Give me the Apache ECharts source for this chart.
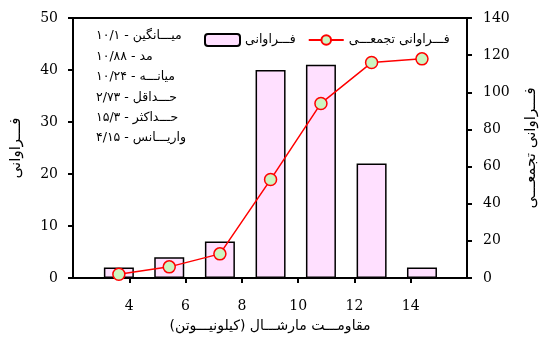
<!DOCTYPE html>
<html>
<head>
<meta charset="utf-8">
<script src="https://cdn.jsdelivr.net/npm/echarts@6/dist/echarts.min.js"></script>
<style>html,body{margin:0;padding:0;background:#fff;}#c{width:547px;height:337px;}</style>
</head>
<body>
<div id="c"></div>
<script>
// Data
const binCenters = [3.63, 5.42, 7.22, 9.02, 10.81, 12.61, 14.40];
const frequency = [2, 4, 7, 40, 41, 22, 2];
const cumulative = [2, 6, 13, 53, 94, 116, 118];
const xTicks = [4, 6, 8, 10, 12, 14];
const statLines = [
  'میـــانگین - ۱۰/۱',
  'مد - ۱۰/۸۸',
  'میانـــه - ۱۰/۲۴',
  'حـــداقل - ۲/۷۳',
  'حـــداکثر - ۱۵/۳',
  'واریـــانس - ۴/۱۵'
];
const nameFreq = 'فـــراوانی';
const nameCum = 'فـــراوانی تجمعـــی';
const nameX = 'مقاومـــت مارشـــال (کیلونیـــوتن)';

const RLM = '\u200F';
const rtl = s => RLM + s + RLM;
const serif = '"DejaVu Serif", "Liberation Serif", serif';
const fa = '"DejaVu Sans", sans-serif';

const chart = echarts.init(document.getElementById('c'), null, {renderer: 'canvas'});
chart.setOption({
  animation: false,
  backgroundColor: '#fff',
  grid: {left: 73, right: 80, top: 18, bottom: 59, outerBoundsMode: 'none', containLabel: false,
         show: true, borderColor: '#000', borderWidth: 2, backgroundColor: 'transparent'},
  legend: {
    left: 199, top: 28, itemWidth: 35, itemHeight: 12, itemGap: 12,
    textStyle: {fontFamily: fa, fontSize: 12.5, color: '#000'},
    data: [rtl(nameFreq), rtl(nameCum)]
  },
  xAxis: {
    type: 'value', min: 2, max: 16, interval: 2,
    name: rtl(nameX), nameLocation: 'middle', nameGap: 41, nameMoveOverlap: false,
    nameTextStyle: {fontFamily: fa, fontSize: 14, color: '#000'},
    axisLine: {lineStyle: {color: '#000', width: 2}},
    axisTick: {show: true, length: 5, lineStyle: {color: '#000', width: 2}, customValues: xTicks},
    axisLabel: {fontFamily: serif, fontSize: 14, color: '#000', margin: 21, customValues: xTicks},
    splitLine: {show: false}
  },
  yAxis: [{
    type: 'value', min: 0, max: 50, interval: 10, position: 'left',
    name: rtl(nameFreq), nameLocation: 'middle', nameGap: 49, nameRotate: 90, nameMoveOverlap: false,
    nameTextStyle: {fontFamily: fa, fontSize: 15, color: '#000'},
    axisLine: {show: true, lineStyle: {color: '#000', width: 2}},
    axisTick: {show: true, length: 5, lineStyle: {color: '#000', width: 2}},
    axisLabel: {fontFamily: serif, fontSize: 14, color: '#000', margin: 15},
    splitLine: {show: false}
  }, {
    type: 'value', min: 0, max: 140, interval: 20, position: 'right',
    name: rtl(nameCum), nameLocation: 'middle', nameGap: 57, nameRotate: 90, nameMoveOverlap: false,
    nameTextStyle: {fontFamily: fa, fontSize: 15, color: '#000'},
    axisLine: {show: true, lineStyle: {color: '#000', width: 2}},
    axisTick: {show: true, length: 5, lineStyle: {color: '#000', width: 2}},
    axisLabel: {fontFamily: serif, fontSize: 14, color: '#000', margin: 16},
    splitLine: {show: false}
  }],
  graphic: [{
    type: 'text', right: 547 - 186, top: 26,
    style: {
      text: statLines.map(rtl).join('\n'),
      font: '12.5px ' + fa, fill: '#000', align: 'right', lineHeight: 20.4
    }
  }],
  series: [{
    name: rtl(nameFreq), type: 'bar', yAxisIndex: 0, barWidth: 30,
    data: binCenters.map((x, i) => [x, frequency[i]]),
    itemStyle: {color: '#FFE0FF', borderColor: '#000', borderWidth: 1.5}
  }, {
    name: rtl(nameCum), type: 'line', yAxisIndex: 1,
    data: binCenters.map((x, i) => [x, cumulative[i]]),
    symbol: 'circle', symbolSize: 12,
    lineStyle: {color: '#FF0000', width: 1.5},
    itemStyle: {color: '#CCF5C0', borderColor: '#FF0000', borderWidth: 1.5}
  }]
});
</script>
</body>
</html>
